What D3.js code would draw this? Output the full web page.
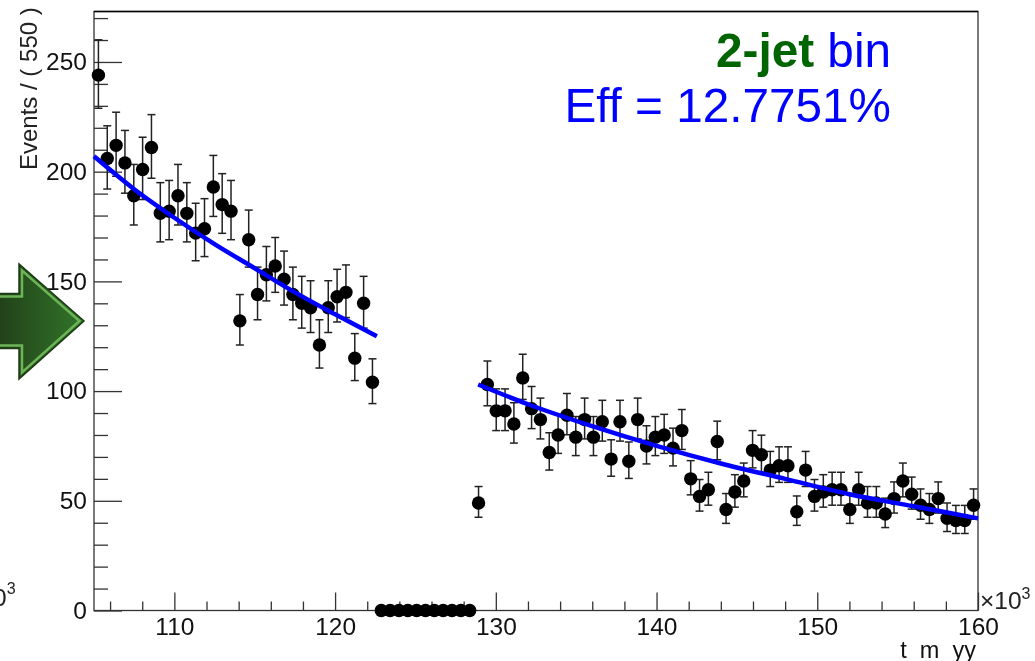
<!DOCTYPE html>
<html>
<head>
<meta charset="utf-8">
<script src="https://cdn.jsdelivr.net/npm/d3@7"></script>
<style>
  html, body { margin: 0; padding: 0; background: #fff; }
  text { font-family: "Liberation Sans", Arial, sans-serif; }
  svg { filter: blur(0.35px); }
</style>
</head>
<body>
<div id="chart"></div>
<script>
// bin centres, one per 550 wide bin, from the 100 markers
var binCentres = [
  105.275,105.825,106.375,106.925,107.475,108.025,108.575,109.125,109.675,110.225,
  110.775,111.325,111.875,112.425,112.975,113.525,114.075,114.625,115.175,115.725,
  116.275,116.825,117.375,117.925,118.475,119.025,119.575,120.125,120.675,121.225,
  121.775,122.325,122.875,123.425,123.975,124.525,125.075,125.625,126.175,126.725,
  127.275,127.825,128.375,128.925,129.475,130.025,130.575,131.125,131.675,132.225,
  132.775,133.325,133.875,134.425,134.975,135.525,136.075,136.625,137.175,137.725,
  138.275,138.825,139.375,139.925,140.475,141.025,141.575,142.125,142.675,143.225,
  143.775,144.325,144.875,145.425,145.975,146.525,147.075,147.625,148.175,148.725,
  149.275,149.825,150.375,150.925,151.475,152.025,152.575,153.125,153.675,154.225,
  154.775,155.325,155.875,156.425,156.975,157.525,158.075,158.625,159.175,159.725
];
var events = [
  244,206,212,204,189,201,211,181,182,189,
  181,172,174,193,185,182,132,169,144,153,
  157,151,144,140,138,121,138,143,145,115,
  140,104,0,0,0,0,0,0,0,0,
  0,0,0,49,103,91,91,85,106,92,
  87,72,80,89,79,87,79,86,69,86,
  68,87,75,79,80,74,82,60,52,55,
  77,46,54,59,73,71,64,66,66,45,
  64,52,54,55,55,46,55,49,49,44,
  51,59,53,48,46,51,42,41,41,48
];
var errLow = [
  15.1,13.9,14.1,13.8,13.3,13.7,14.0,13.0,13.0,13.3,
  13.0,12.6,12.7,13.4,13.1,13.0,11.0,12.5,11.5,11.9,
  12.0,11.8,11.5,11.3,11.3,10.5,11.3,11.5,11.5,10.2,
  11.3,9.7,0,0,0,0,0,0,0,0,
  0,0,0,6.5,9.7,9.0,9.0,8.7,9.8,9.1,
  8.8,8.0,8.4,8.9,8.4,8.8,8.4,8.8,7.8,8.8,
  7.8,8.8,8.2,8.4,8.4,8.1,8.6,7.3,6.7,7.0,
  8.3,6.3,6.9,7.2,8.0,7.9,7.5,7.6,7.6,6.2,
  7.5,6.7,6.9,7.0,7.0,6.3,7.0,6.5,6.5,6.2,
  6.6,7.2,6.8,6.4,6.3,6.6,6.0,5.9,5.9,6.4
];
var errHigh = [
  16.1,14.9,15.1,14.8,14.3,14.7,15.0,14.0,14.0,14.3,
  14.0,13.6,13.7,14.4,14.1,14.0,12.0,13.5,12.5,12.9,
  13.0,12.8,12.5,12.3,12.3,11.5,12.3,12.5,12.5,11.2,
  12.3,10.7,1.1,1.1,1.1,1.1,1.1,1.1,1.1,1.1,
  1.1,1.1,1.1,7.5,10.7,10.0,10.0,9.7,10.8,10.1,
  9.8,9.0,9.4,9.9,9.4,9.8,9.4,9.8,8.8,9.8,
  8.8,9.8,9.2,9.4,9.4,9.1,9.6,8.3,7.7,8.0,
  9.3,7.3,7.9,8.2,9.0,8.9,8.5,8.6,8.6,7.2,
  8.5,7.7,7.9,8.0,8.0,7.3,8.0,7.5,7.5,7.2,
  7.6,8.2,7.8,7.4,7.3,7.6,7.0,6.9,6.9,7.4
];

// fit curve, two sidebands
var fitLeftX = [105, 107.5, 110, 112.5, 115, 117.5, 120, 122.6];
var fitLeftY = [207, 192, 179, 167, 156, 145, 135, 125];
var fitRightX = [128.9, 132, 136, 140, 144, 148, 152, 156, 160];
var fitRightY = [103, 94, 84, 75, 67, 60, 53, 47.5, 42];

var xMajor = [110, 120, 130, 140, 150, 160];
var xMinor = [106, 108, 112, 114, 116, 118, 122, 124, 126, 128, 132, 134, 136, 138, 142, 144, 146, 148, 152, 154, 156, 158];
var yMajor = [0, 50, 100, 150, 200, 250];
var yMinor = [10, 20, 30, 40, 60, 70, 80, 90, 110, 120, 130, 140, 160, 170, 180, 190, 210, 220, 230, 240, 260, 270];

// dimensions
var margin = {top: 11.5, right: 57, bottom: 50.5, left: 94},
    width = 1035 - margin.left - margin.right,
    height = 661 - margin.top - margin.bottom;

var svg = d3.select("#chart")
  .append("svg")
  .attr("width", 1035)
  .attr("height", 661)
  .style("display", "block");

var defs = svg.append("defs");
var grad = defs.append("linearGradient").attr("id", "arrowFill");
grad.append("stop").attr("offset", "0%").attr("stop-color", "#213f18");
grad.append("stop").attr("offset", "100%").attr("stop-color", "#32752a");

var g = svg.append("g").attr("transform", "translate(" + margin.left + "," + margin.top + ")");

var x = d3.scaleLinear().domain([105, 160]).range([0, width]);
var y = d3.scaleLinear().domain([0, 273]).range([height, 0]);

// frame
g.append("rect")
  .attr("width", width).attr("height", height)
  .attr("fill", "none").attr("stroke", "#333").attr("stroke-width", 1.3);
g.append("line")
  .attr("x1", 0).attr("x2", width)
  .attr("stroke", "#000").attr("stroke-width", 1.5);

// axes, ticks point into the frame
function styleAxis(sel) {
  sel.select(".domain").remove();
  sel.selectAll("line").attr("stroke", "#333").attr("stroke-width", 1.3);
  sel.selectAll("text").attr("fill", "#111").style("font-size", "24.5px");
}
g.append("g").attr("transform", "translate(0," + height + ")")
  .call(d3.axisBottom(x).tickValues(xMajor).tickSize(-18).tickFormat(d3.format("d")))
  .call(styleAxis)
  .selectAll("text").attr("y", 24).attr("dy", 0);
g.append("g").attr("transform", "translate(0," + height + ")")
  .call(d3.axisBottom(x).tickValues(xMinor).tickSize(-9).tickFormat(""))
  .call(styleAxis);
g.append("g")
  .call(d3.axisLeft(y).tickValues(yMajor).tickSize(-28).tickPadding(7).tickFormat(d3.format("d")))
  .call(styleAxis);
g.append("g")
  .call(d3.axisLeft(y).tickValues(yMinor).tickSize(-14).tickFormat(""))
  .call(styleAxis);

// error bars
var bars = g.append("g").selectAll("g")
  .data(binCentres)
  .enter().append("g")
  .attr("stroke", "#222").attr("stroke-width", 1.5);
bars.append("line")
  .attr("x1", function(d) { return x(d); })
  .attr("x2", function(d) { return x(d); })
  .attr("y1", function(d, i) { return y(events[i] - errLow[i]); })
  .attr("y2", function(d, i) { return y(events[i] + errHigh[i]); });
bars.append("line")
  .attr("x1", function(d) { return x(d) - 4; })
  .attr("x2", function(d) { return x(d) + 4; })
  .attr("y1", function(d, i) { return y(events[i] + errHigh[i]); })
  .attr("y2", function(d, i) { return y(events[i] + errHigh[i]); });
bars.append("line")
  .attr("x1", function(d) { return x(d) - 4; })
  .attr("x2", function(d) { return x(d) + 4; })
  .attr("y1", function(d, i) { return y(events[i] - errLow[i]); })
  .attr("y2", function(d, i) { return y(events[i] - errLow[i]); });

// points
g.append("g").selectAll("circle")
  .data(binCentres)
  .enter().append("circle")
  .attr("cx", function(d) { return x(d); })
  .attr("cy", function(d, i) { return y(events[i]); })
  .attr("r", 6.7)
  .attr("fill", "#000");

// fit
var fitLine = d3.line()
  .x(function(d) { return x(d[0]); })
  .y(function(d) { return y(d[1]); })
  .curve(d3.curveMonotoneX);
[d3.zip(fitLeftX, fitLeftY), d3.zip(fitRightX, fitRightY)].forEach(function(seg) {
  g.append("path")
    .attr("d", fitLine(seg))
    .attr("fill", "none")
    .attr("stroke", "#0000ff")
    .attr("stroke-width", 4.5);
});

// axis titles
svg.append("text")
  .attr("transform", "translate(37,170)rotate(-90)")
  .attr("fill", "#222")
  .style("font-size", "24px")
  .text("Events / ( 550 )");
svg.append("text")
  .attr("x", 976).attr("y", 658)
  .attr("text-anchor", "end")
  .attr("fill", "#111")
  .attr("xml:space", "preserve")
  .style("white-space", "pre")
  .style("font-size", "23.5px")
  .text("t  m  yy");

// exponent next to the x axis
var expo = svg.append("text").attr("x", 980).attr("y", 609).attr("fill", "#222").style("font-size", "24.5px");
expo.append("tspan").text("\u00d710");
expo.append("tspan").attr("dy", -10).style("font-size", "16px").text("3");

// exponent left over from the neighbouring panel
var expoLeft = svg.append("text").attr("x", -7).attr("y", 606).attr("fill", "#222").style("font-size", "24.5px");
expoLeft.append("tspan").text("0");
expoLeft.append("tspan").attr("dy", -12).style("font-size", "16px").text("3");

// labels top right
var lab1 = svg.append("text").attr("x", 891).attr("y", 67).attr("text-anchor", "end").style("font-size", "47.7px");
lab1.append("tspan").attr("fill", "#006400").style("font-weight", "bold").text("2-jet");
lab1.append("tspan").attr("fill", "#0000ff").text(" bin");
svg.append("text").attr("x", 891).attr("y", 121.5).attr("text-anchor", "end")
  .attr("fill", "#0000ff").style("font-size", "47.7px").text("Eff = 12.7751%");

// arrow from the slide
var arrowShape = [[-5, 293.5], [19, 293.5], [19, 264], [84, 321], [19, 379], [19, 348.5], [-5, 348.5]];
svg.append("path")
  .attr("d", d3.line()(arrowShape) + "Z")
  .attr("fill", "url(#arrowFill)")
  .attr("stroke", "#1c3a14")
  .attr("stroke-width", 1.5);
var arrowInner = [[-5, 296.5], [22, 296.5], [22, 270.5], [79.5, 321], [22, 372.5], [22, 345.5], [-5, 345.5]];
svg.append("path")
  .attr("d", d3.line()(arrowInner) + "Z")
  .attr("fill", "none")
  .attr("stroke", "#6db456")
  .attr("stroke-width", 2.5);
</script>
</body>
</html>
